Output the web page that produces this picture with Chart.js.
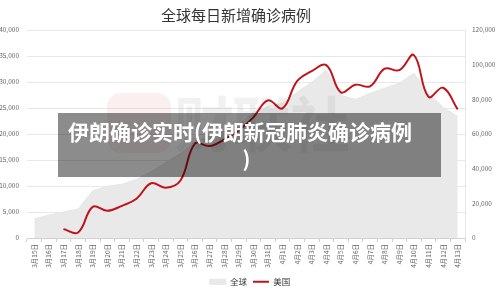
<!DOCTYPE html>
<html>
<head>
<meta charset="utf-8">
<script src="https://cdn.jsdelivr.net/npm/chart.js@4"></script>
<style>
  html,body{margin:0;padding:0;background:#fff;}
  #wrap{position:relative;width:500px;height:292px;overflow:hidden;background:#fff;}
  #c{position:absolute;left:0;top:0;}
  #title{position:absolute;left:0;top:5px;width:472px;text-align:center;font:15px "Noto Sans CJK SC","Noto Sans",sans-serif;line-height:20px;color:#333;}
  #wm-logo{position:absolute;left:107px;top:93px;width:64px;height:60px;border-radius:14px;background:rgba(215,30,40,0.07);}
  #wm-text{position:absolute;left:174px;top:86px;font:bold 60px "Noto Sans CJK SC",sans-serif;line-height:70px;color:rgba(0,0,0,0.055);white-space:nowrap;letter-spacing:-2px;}
  #overlay{position:absolute;left:58px;top:113px;width:383px;height:64px;box-sizing:border-box;padding-top:5px;background:rgba(0,0,0,0.45);color:#fff;font:bold 21px "Noto Sans CJK SC",sans-serif;line-height:27px;}
  #overlay .l1{padding-left:10px;white-space:nowrap;}
  #overlay .l2{text-align:center;padding-right:6px;}
</style>
</head>
<body>
<div id="wrap">
  <canvas id="c" width="500" height="296"></canvas>
  <div id="title">全球每日新增确诊病例</div>
  <div id="wm-logo"></div>
  <div id="wm-text">财联社</div>
  <div id="overlay"><div class="l1">伊朗确诊实时(伊朗新冠肺炎确诊病例</div><div class="l2">)</div></div>
</div>
<script>
const categories = ['3月15日','3月16日','3月17日','3月18日','3月19日','3月20日','3月21日','3月22日','3月23日','3月24日','3月25日','3月26日','3月27日','3月28日','3月29日','3月30日','3月31日','4月1日','4月2日','4月3日','4月4日','4月5日','4月6日','4月7日','4月8日','4月9日','4月10日','4月11日','4月12日','4月13日'];
const globalNew = [11000,13300,15000,16800,27200,29900,31000,33900,38300,43500,48700,55600,58500,61500,65500,72500,75900,77700,84100,89900,96800,82300,80000,83500,86400,89300,95100,83500,75400,70100];
const usNew = [null,null,1740,1060,5990,5220,6180,7540,10530,9660,11010,18160,17680,18940,20680,23190,26470,24930,30150,32080,33240,28020,29470,29180,32560,32270,35170,27150,28890,24730];
const leftTicks = [0,5000,10000,15000,20000,25000,30000,35000,40000];
const rightTicks = [0,20000,40000,60000,80000,100000,120000];

Chart.defaults.font.family = '"Noto Sans CJK SC","Noto Sans",sans-serif';

new Chart(document.getElementById('c').getContext('2d'), {
  type: 'line',
  data: {
    labels: categories,
    datasets: [
      {label:'全球', data: globalNew, yAxisID:'y1', fill:'origin', backgroundColor:'#e9e9e9', borderColor:'#e6e6e6', borderWidth:1, pointRadius:0, tension:0, order:1, pointStyle:'rect'},
      {label:'美国', data: usNew, yAxisID:'y', fill:false, borderColor:'#c0141c', borderWidth:2, pointRadius:0, tension:0.4, order:0, pointStyle:'line'}
    ]
  },
  options: {
    responsive:false, animation:false, devicePixelRatio:1,
    layout:{padding:{top:30,left:0,right:0,bottom:0}},
    plugins:{
      title:{display:false},
      tooltip:{enabled:false},
      legend:{position:'bottom', labels:{usePointStyle:true, pointStyleWidth:16, boxHeight:5, padding:6, color:'#333', font:{size:8.5}, sort:(a,b)=>a.datasetIndex-b.datasetIndex}}
    },
    scales:{
      x:{
        offset:true,
        grid:{display:true, drawOnChartArea:false, drawTicks:true, tickLength:4, color:'#d0d0d0', offset:true},
        border:{color:'#d0d0d0'},
        ticks:{autoSkip:false, minRotation:90, maxRotation:90, padding:2, color:'#666', font:{size:6.5}},
        afterFit(s){ s.height = 33.5; }
      },
      y:{
        position:'left', min:leftTicks[0], max:leftTicks[leftTicks.length-1],
        afterBuildTicks(s){ s.ticks = leftTicks.map(v=>({value:v})); },
        grid:{color:'#e8e8e8', drawTicks:false},
        border:{display:false},
        ticks:{padding:8, color:'#666', font:{size:6.5}},
        afterFit(s){ s.width = 27; }
      },
      y1:{
        position:'right', min:rightTicks[0], max:rightTicks[rightTicks.length-1],
        afterBuildTicks(s){ s.ticks = rightTicks.map(v=>({value:v})); },
        grid:{drawOnChartArea:false, drawTicks:false},
        border:{display:true, color:'#e6e6e6'},
        ticks:{padding:7, color:'#666', font:{size:6.5}},
        afterFit(s){ s.width = 35; }
      }
    }
  }
});
</script>
</body>
</html>
